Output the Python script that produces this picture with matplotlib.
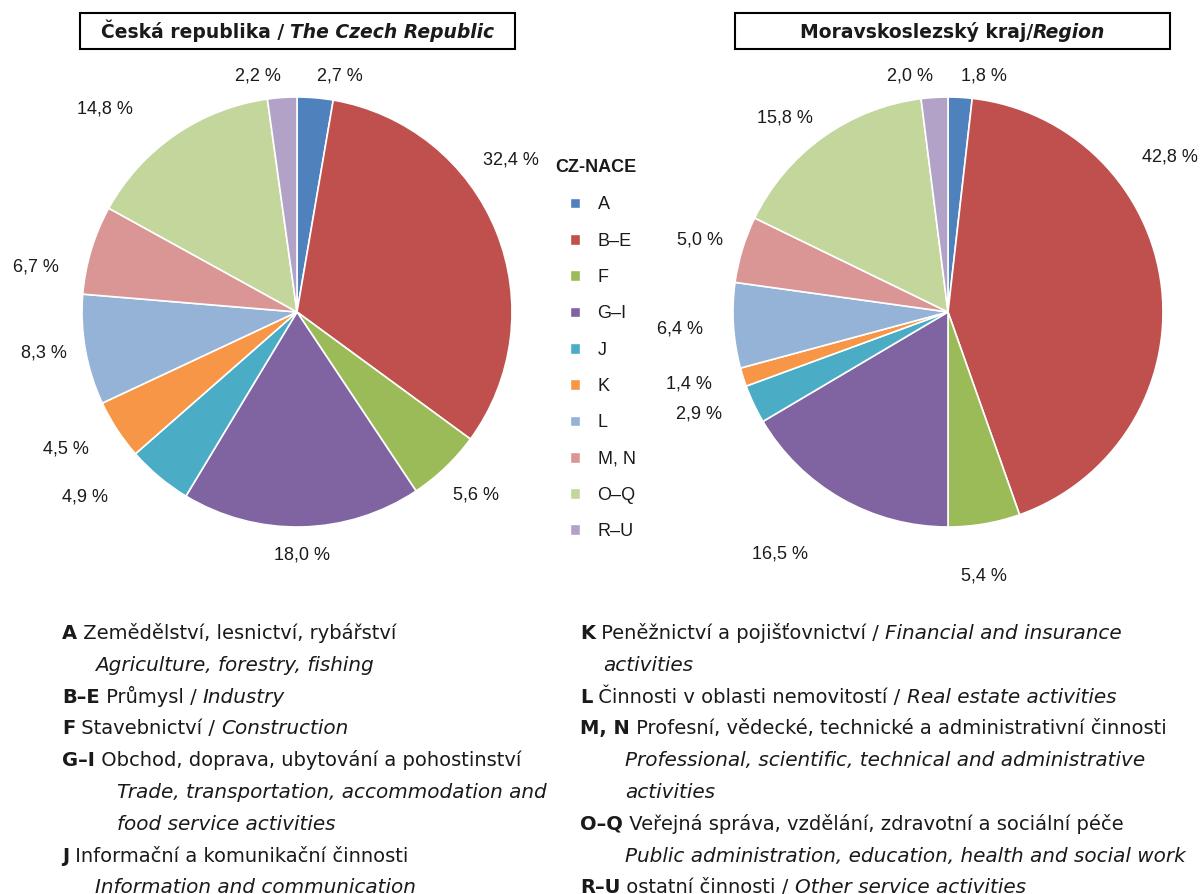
import matplotlib
matplotlib.use('Agg')
import matplotlib.pyplot as plt
from matplotlib.patches import Rectangle, Patch
from matplotlib.text import Annotation
import numpy as np

plt.rcParams['font.family'] = ['Liberation Sans', 'DejaVu Sans']

# data
categories = ['A', 'B–E', 'F', 'G–I', 'J', 'K', 'L', 'M, N', 'O–Q', 'R–U']
cz_values = [2.7, 32.4, 5.6, 18.0, 4.9, 4.5, 8.3, 6.7, 14.8, 2.2]
msk_values = [1.8, 42.8, 5.4, 16.5, 2.9, 1.4, 6.4, 5.0, 15.8, 2.0]
colors = ['#4F81BD', '#C0504D', '#9BBB59', '#8064A2', '#4BACC6',
          '#F79646', '#95B3D7', '#D99694', '#C3D69B', '#B3A2C7']

cz_title = ('Česká republika / ', 'The Czech Republic')
msk_title = ('Moravskoslezský kraj/', 'Region')

B, N, I = 'bold', 'normal', 'italic'
left_notes = [
    (633, 62, [('A', B, N), (' Zemědělství, lesnictví, rybářství', N, N)]),
    (665, 95, [('Agriculture, forestry, fishing', N, I)]),
    (697, 62, [('B–E', B, N), (' Průmysl / ', N, N), ('Industry', N, I)]),
    (728, 62, [('F', B, N), (' Stavebnictví / ', N, N), ('Construction', N, I)]),
    (760, 62, [('G–I', B, N), (' Obchod, doprava, ubytování a pohostinství', N, N)]),
    (792, 117, [('Trade, transportation, accommodation and', N, I)]),
    (824, 117, [('food service activities', N, I)]),
    (856, 62, [('J', B, N), (' Informační a komunikační činnosti', N, N)]),
    (887, 95, [('Information and communication', N, I)]),
]
right_notes = [
    (633, 580, [('K', B, N), (' Peněžnictví a pojišťovnictví / ', N, N),
                ('Financial and insurance', N, I)]),
    (665, 603, [('activities', N, I)]),
    (697, 580, [('L', B, N), (' Činnosti v oblasti nemovitostí / ', N, N),
                ('Real estate activities', N, I)]),
    (728, 580, [('M, N', B, N), (' Profesní, vědecké, technické a administrativní činnosti', N, N)]),
    (760, 625, [('Professional, scientific, technical and administrative', N, I)]),
    (792, 625, [('activities', N, I)]),
    (824, 580, [('O–Q', B, N), (' Veřejná správa, vzdělání, zdravotní a sociální péče', N, N)]),
    (856, 625, [('Public administration, education, health and social work', N, I)]),
    (887, 580, [('R–U', B, N), (' ostatní činnosti / ', N, N), ('Other service activities', N, I)]),
]

# label placement: (angle shift in degrees, distance in radii), like Excel's best fit
cz_label_pos = {'B–E': (13.5, 1.22), 'F': (0.6, 1.19), 'G–I': (0, 1.13), 'J': (-9, 1.31),
                'K': (-2.5, 1.25), 'L': (-1, 1.19), 'M, N': (7, 1.23), 'O–Q': (9, 1.3)}
msk_label_pos = {'B–E': (28.5, 1.26), 'F': (-2, 1.24), 'G–I': (-5, 1.37), 'J': (-3, 1.25),
                 'K': (-2, 1.25), 'L': (0, 1.25), 'M, N': (0.7, 1.2), 'O–Q': (4.4, 1.18)}

W, H = 1204, 894
TXT = '#1a1a1a'
FS = 13
NOTE_FONT = ['DejaVu Sans']
fig = plt.figure(figsize=(W / 100, H / 100), dpi=100)
fig.patch.set_facecolor('white')


def px_axes(cx, cy, r):
    return fig.add_axes([(cx - r) / W, 1 - (cy + r) / H, 2 * r / W, 2 * r / H])


def draw_pie(ax, values, label_pos):
    wedges, _ = ax.pie(values, colors=colors, startangle=90, counterclock=False,
                       wedgeprops=dict(edgecolor='white', linewidth=1.2))
    ax.set_xlim(-1, 1)
    ax.set_ylim(-1, 1)
    ax.set_aspect('equal')
    ax.axis('off')
    for w, v, cat in zip(wedges, values, categories):
        mid = (w.theta1 + w.theta2) / 2
        label = f'{v:.1f}'.replace('.', ',') + ' %'
        x, y = np.cos(np.deg2rad(mid)), np.sin(np.deg2rad(mid))
        if cat not in label_pos and abs(x) < 0.15 and y > 0:
            ax.text(1.1 * x, 1.1 * y, label, ha='left' if x > 0 else 'right',
                    va='center', fontsize=FS, color=TXT)
            continue
        shift, dist = label_pos.get(cat, (0, 1.23))
        a = np.deg2rad(mid + shift)
        ax.text(dist * np.cos(a), dist * np.sin(a), label, ha='center', va='center',
                fontsize=FS, color=TXT)
    return wedges


def rich_line(x, y, parts, size=14, family=NOTE_FONT):
    prev = None
    items = []
    for txt, weight, style in parts:
        sz = size + 0.4 if style == I else size
        if prev is None:
            prev = fig.text(x / W, 1 - y / H, txt, fontsize=sz, fontweight=weight,
                            fontstyle=style, color=TXT, ha='left', va='baseline',
                            family=family)
        else:
            prev = Annotation(txt, xy=(1, 0), xycoords=prev, fontsize=sz,
                              fontweight=weight, fontstyle=style, color=TXT,
                              ha='left', va='bottom', family=family)
            fig.add_artist(prev)
        items.append(prev)
    return items


def title_box(x0, x1, y0, y1, parts):
    fig.add_artist(Rectangle((x0 / W, 1 - y1 / H), (x1 - x0) / W, (y1 - y0) / H,
                             transform=fig.transFigure, fill=False, ec='black', lw=1.5))
    items = rich_line(x0, (y0 + y1) / 2 + 7, [(parts[0], B, N), (parts[1], B, N)], size=13.5)
    items[1].set_fontstyle('italic')
    r = fig.canvas.get_renderer()
    width = sum(t.get_window_extent(r).width for t in items)
    items[0].set_x(((x0 + x1) / 2 - width / 2) / W)


ax1 = px_axes(297, 312, 215)
draw_pie(ax1, cz_values, cz_label_pos)
ax2 = px_axes(948, 312, 215)
draw_pie(ax2, msk_values, msk_label_pos)

title_box(80, 515, 13, 49, cz_title)
title_box(735, 1170, 13, 49, msk_title)

# legend
fig.text(555 / W, 1 - 168 / H, 'CZ-NACE', fontsize=FS, fontweight='bold', color=TXT,
         ha='left', va='center')
handles = [Patch(facecolor=c, edgecolor='white') for c in colors]
leg = fig.legend(handles, categories, loc='upper left',
                 bbox_to_anchor=(556 / W, 1 - 182 / H), frameon=False,
                 fontsize=FS, handlelength=0.55, handleheight=0.55, handletextpad=0.95,
                 labelspacing=1.07, borderpad=0.3)
for t in leg.get_texts():
    t.set_color(TXT)

for y, x, parts in left_notes + right_notes:
    rich_line(x, y + 6, parts)

fig.savefig('out.png', dpi=100, facecolor='white')
